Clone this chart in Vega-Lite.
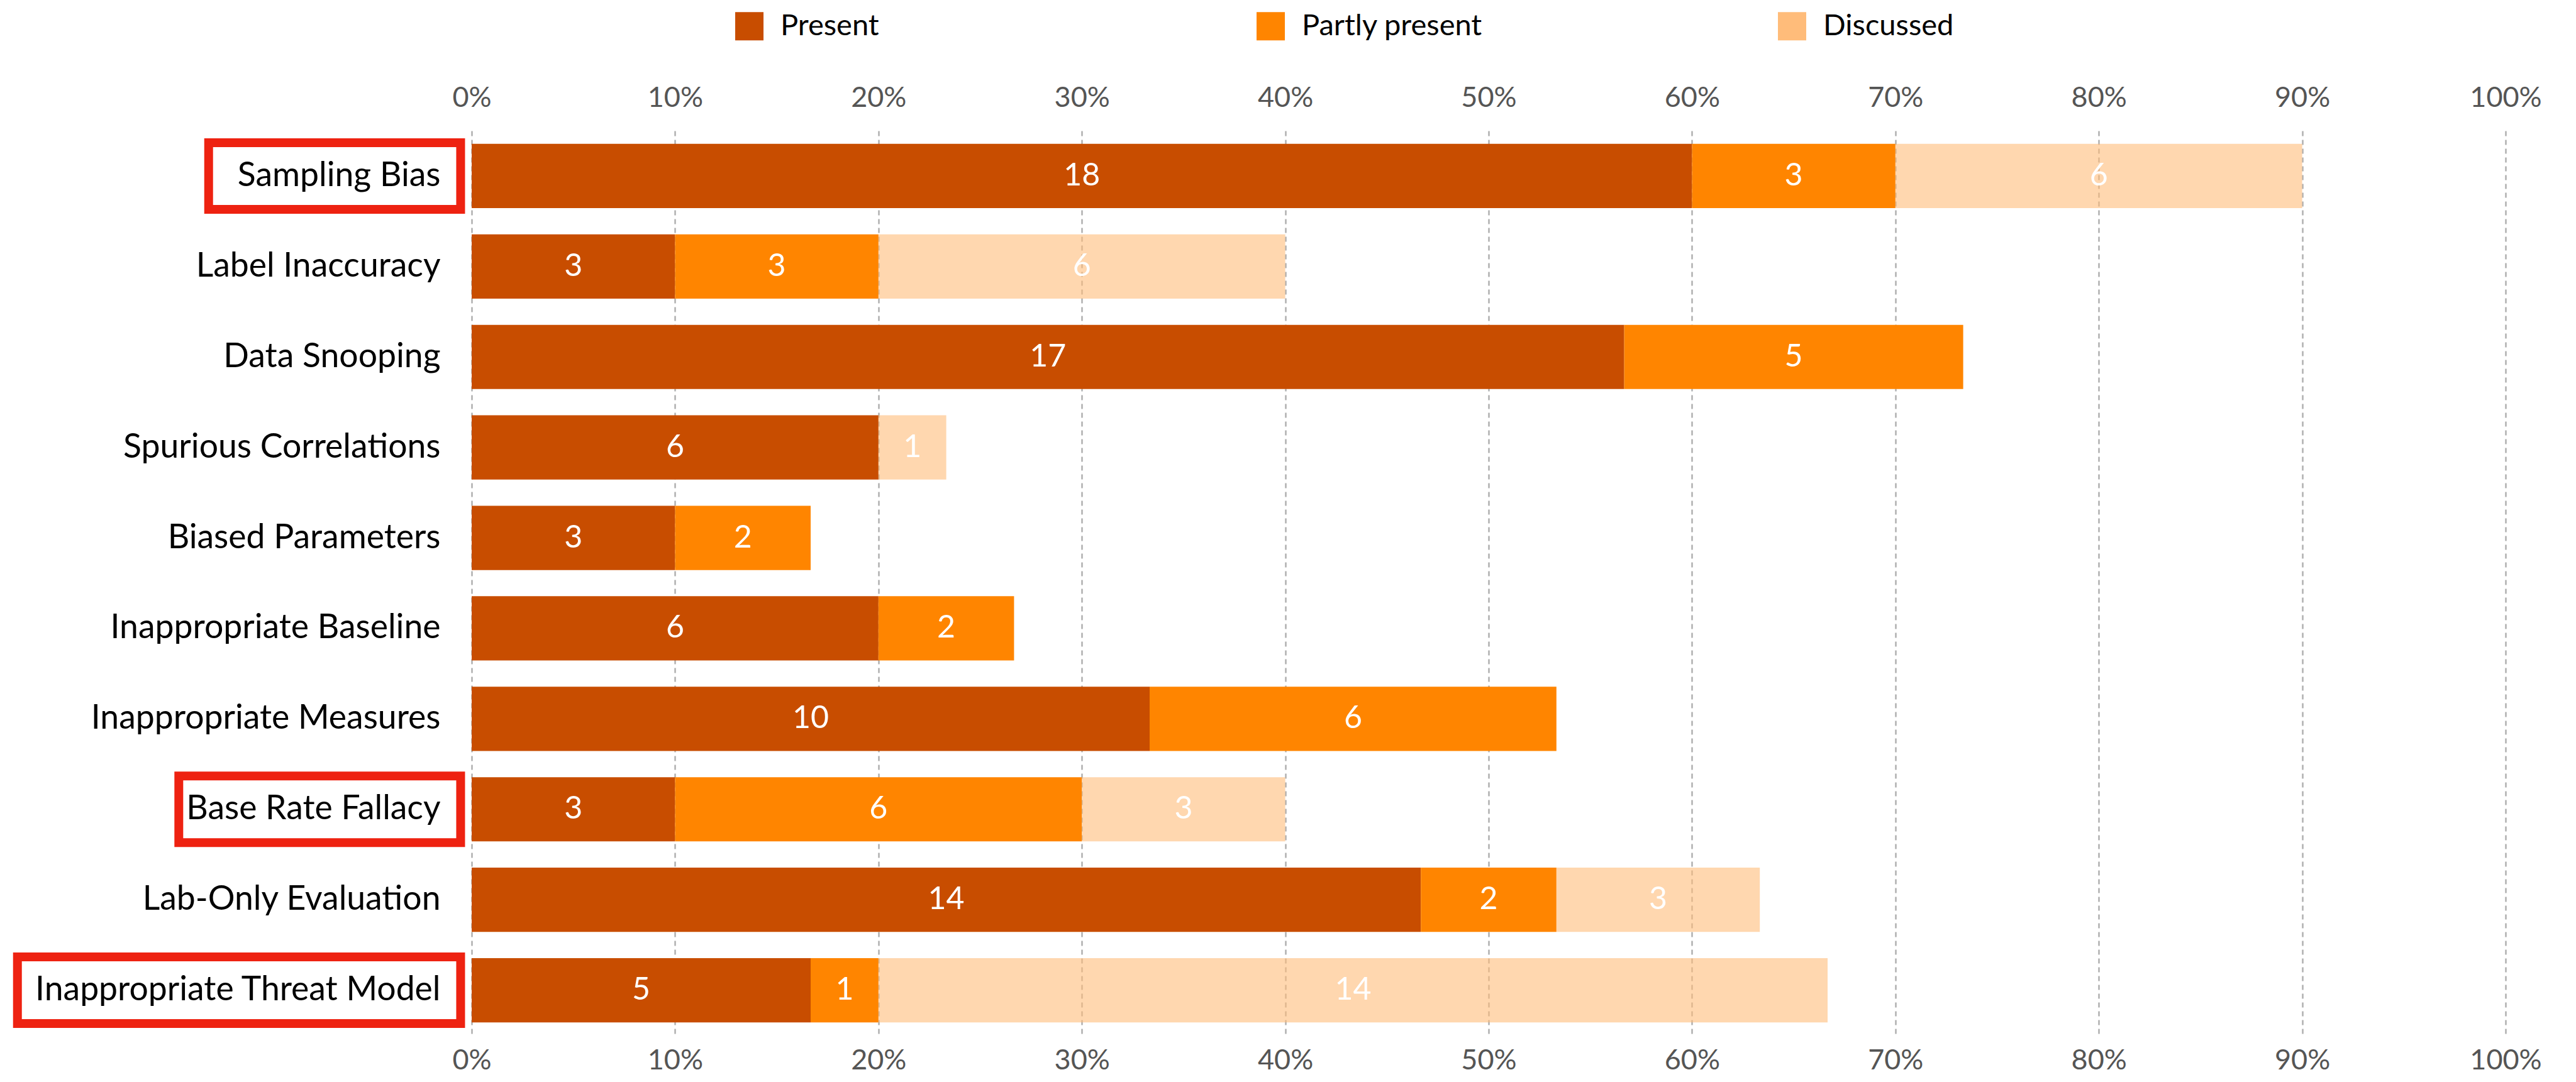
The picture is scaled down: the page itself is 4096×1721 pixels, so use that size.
{
  "$schema": "https://vega.github.io/schema/vega-lite/v6.json",
  "width": 3234,
  "height": 1439,
  "autosize": "none",
  "padding": {"left": 750, "top": 208, "right": 112, "bottom": 74},
  "background": "white",
  "config": {
    "font": "Lato",
    "view": {"stroke": null},
    "axis": {"domain": false, "ticks": false, "labelFont": "Lato", "labelLimit": 0},
    "axisX": {"labelFontSize": 45, "labelColor": "#555555", "labelFlush": false},
    "axisY": {"labelFontSize": 53.5, "labelColor": "#000000", "labelPadding": 50}
  },
  "datasets": {
    "counts": [
      {"category": "Sampling Bias", "status": "Present", "count": 18},
      {"category": "Sampling Bias", "status": "Partly present", "count": 3},
      {"category": "Sampling Bias", "status": "Discussed", "count": 6},
      {"category": "Label Inaccuracy", "status": "Present", "count": 3},
      {"category": "Label Inaccuracy", "status": "Partly present", "count": 3},
      {"category": "Label Inaccuracy", "status": "Discussed", "count": 6},
      {"category": "Data Snooping", "status": "Present", "count": 17},
      {"category": "Data Snooping", "status": "Partly present", "count": 5},
      {"category": "Spurious Correlations", "status": "Present", "count": 6},
      {"category": "Spurious Correlations", "status": "Discussed", "count": 1},
      {"category": "Biased Parameters", "status": "Present", "count": 3},
      {"category": "Biased Parameters", "status": "Partly present", "count": 2},
      {"category": "Inappropriate Baseline", "status": "Present", "count": 6},
      {"category": "Inappropriate Baseline", "status": "Partly present", "count": 2},
      {"category": "Inappropriate Measures", "status": "Present", "count": 10},
      {"category": "Inappropriate Measures", "status": "Partly present", "count": 6},
      {"category": "Base Rate Fallacy", "status": "Present", "count": 3},
      {"category": "Base Rate Fallacy", "status": "Partly present", "count": 6},
      {"category": "Base Rate Fallacy", "status": "Discussed", "count": 3},
      {"category": "Lab-Only Evaluation", "status": "Present", "count": 14},
      {"category": "Lab-Only Evaluation", "status": "Partly present", "count": 2},
      {"category": "Lab-Only Evaluation", "status": "Discussed", "count": 3},
      {"category": "Inappropriate Threat Model", "status": "Present", "count": 5},
      {"category": "Inappropriate Threat Model", "status": "Partly present", "count": 1},
      {"category": "Inappropriate Threat Model", "status": "Discussed", "count": 14}
    ],
    "boxes": [
      {"category": "Sampling Bias", "from": -3.88, "to": -0.163},
      {"category": "Base Rate Fallacy", "from": -4.32, "to": -0.163},
      {"category": "Inappropriate Threat Model", "from": -6.7, "to": -0.163}
    ]
  },
  "layer": [
    {
      "data": {"name": "counts"},
      "transform": [
        {"stack": "count", "groupby": ["category"], "as": ["x0", "x1"], "sort": [{"field": "status", "order": "descending"}]}
      ],
      "mark": {"type": "bar"},
      "encoding": {
        "y": {
          "field": "category", "type": "nominal", "title": null,
          "sort": ["Sampling Bias", "Label Inaccuracy", "Data Snooping", "Spurious Correlations", "Biased Parameters", "Inappropriate Baseline", "Inappropriate Measures", "Base Rate Fallacy", "Lab-Only Evaluation", "Inappropriate Threat Model"],
          "scale": {"paddingInner": 0.29, "paddingOuter": 0.145}
        },
        "x": {
          "field": "x0", "type": "quantitative", "title": null,
          "scale": {"domain": [0, 30], "nice": false, "zero": false},
          "axis": {
            "orient": "top", "values": [0, 3, 6, 9, 12, 15, 18, 21, 24, 27, 30],
            "labelExpr": "format(datum.value / 30, '.0%')",
            "labelPadding": 30, "grid": true, "gridDash": [8, 6], "gridColor": "#B0B0B0", "gridWidth": 2.5
          }
        },
        "x2": {"field": "x1"},
        "color": {
          "field": "status", "type": "nominal",
          "sort": ["Present", "Partly present", "Discussed"],
          "scale": {"domain": ["Present", "Partly present", "Discussed"], "range": ["#C84D00", "#FF8500", "#FFBC7A"]},
          "legend": {
            "orient": "none", "legendX": 418, "legendY": -190, "direction": "horizontal",
            "columns": 3, "gridAlign": "all", "columnPadding": 468,
            "symbolType": "square", "symbolSize": 2025, "symbolStrokeWidth": 0,
            "labelFontSize": 47, "labelOffset": 26, "labelColor": "#000000", "labelLimit": 0, "title": null
          }
        },
        "opacity": {"condition": {"test": "datum.status === 'Discussed'", "value": 0.6}, "value": 1}
      }
    },
    {
      "data": {"name": "counts"},
      "transform": [
        {"stack": "count", "groupby": ["category"], "as": ["x0", "x1"], "sort": [{"field": "status", "order": "descending"}]},
        {"calculate": "(datum.x0 + datum.x1) / 2", "as": "mid"}
      ],
      "mark": {"type": "text", "color": "white", "fontSize": 50, "baseline": "middle", "align": "center", "font": "Lato"},
      "encoding": {
        "y": {"field": "category", "type": "nominal", "title": null,
          "sort": ["Sampling Bias", "Label Inaccuracy", "Data Snooping", "Spurious Correlations", "Biased Parameters", "Inappropriate Baseline", "Inappropriate Measures", "Base Rate Fallacy", "Lab-Only Evaluation", "Inappropriate Threat Model"]},
        "x": {
          "field": "mid", "type": "quantitative", "title": null,
          "axis": {
            "orient": "bottom", "values": [0, 3, 6, 9, 12, 15, 18, 21, 24, 27, 30],
            "labelExpr": "format(datum.value / 30, '.0%')",
            "labelPadding": 17, "grid": false
          }
        },
        "text": {"field": "count", "type": "quantitative"}
      }
    },
    {
      "data": {"name": "boxes"},
      "mark": {"type": "bar", "height": 106, "fill": "transparent", "stroke": "#EE2211", "strokeWidth": 14},
      "encoding": {
        "y": {"field": "category", "type": "nominal", "title": null,
          "sort": ["Sampling Bias", "Label Inaccuracy", "Data Snooping", "Spurious Correlations", "Biased Parameters", "Inappropriate Baseline", "Inappropriate Measures", "Base Rate Fallacy", "Lab-Only Evaluation", "Inappropriate Threat Model"]},
        "x": {"field": "from", "type": "quantitative", "axis": null},
        "x2": {"field": "to"}
      }
    }
  ],
  "resolve": {"axis": {"x": "independent"}}
}
